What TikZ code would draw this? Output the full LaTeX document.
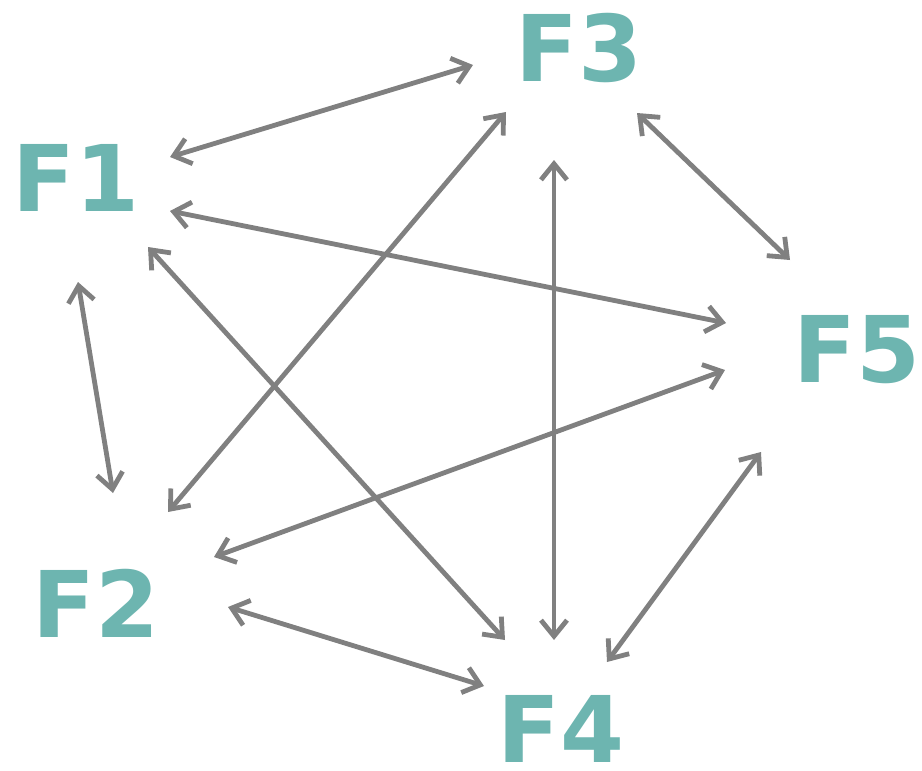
\documentclass[tikz,border=0pt]{standalone}
\usepackage{fontspec}
\setmainfont{DejaVu Sans}
\usetikzlibrary{arrows.meta}
\definecolor{teal1}{HTML}{6DB5B0}
\definecolor{gray1}{HTML}{808080}
\tikzset{
  lbl/.style={text=teal1,font=\fontsize{46}{46}\bfseries\selectfont,inner sep=0pt},
  link/.style={draw=gray1,line width=2.4pt,{Straight Barb[length=8pt,width=13pt,line width=2.4pt]}-{Straight Barb[length=8pt,width=13pt,line width=2.4pt]}}
}
\begin{document}
\begin{tikzpicture}[x=0.5pt,y=-0.5pt]
\useasboundingbox (0,0) rectangle (922,771);
\node[lbl] (F1) at (76,178) {F1};
\node[lbl] (F3) at (579,48) {F3};
\node[lbl] (F5) at (857,350) {F5};
\node[lbl] (F2) at (96,603) {F2};
\node[lbl] (F4) at (561,729) {F4};
% endpoints
\coordinate (a13) at (170,157); \coordinate (b13) at (473,65);
\coordinate (a15) at (170,211); \coordinate (b15) at (726,323);
\coordinate (a14) at (148,247); \coordinate (b14) at (505,640);
\coordinate (a12) at (78,282);  \coordinate (b12) at (113,493);
\coordinate (a23) at (168,512); \coordinate (b23) at (506,112);
\coordinate (a25) at (214,557); \coordinate (b25) at (725,370);
\coordinate (a24) at (228,607); \coordinate (b24) at (484,686);
\coordinate (a34) at (554,160); \coordinate (b34) at (554,640);
\coordinate (a35) at (637,113); \coordinate (b35) at (790,260);
\coordinate (a45) at (607,662); \coordinate (b45) at (761,452);
\draw[link] (a13) -- (b13);
\draw[link] (a15) -- (b15);
\draw[link] (a14) -- (b14);
\draw[link] (a12) -- (b12);
\draw[link] (a23) -- (b23);
\draw[link] (a25) -- (b25);
\draw[link] (a24) -- (b24);
\draw[link] (a34) -- (b34);
\draw[link] (a35) -- (b35);
\draw[link] (a45) -- (b45);
\end{tikzpicture}
\end{document}
